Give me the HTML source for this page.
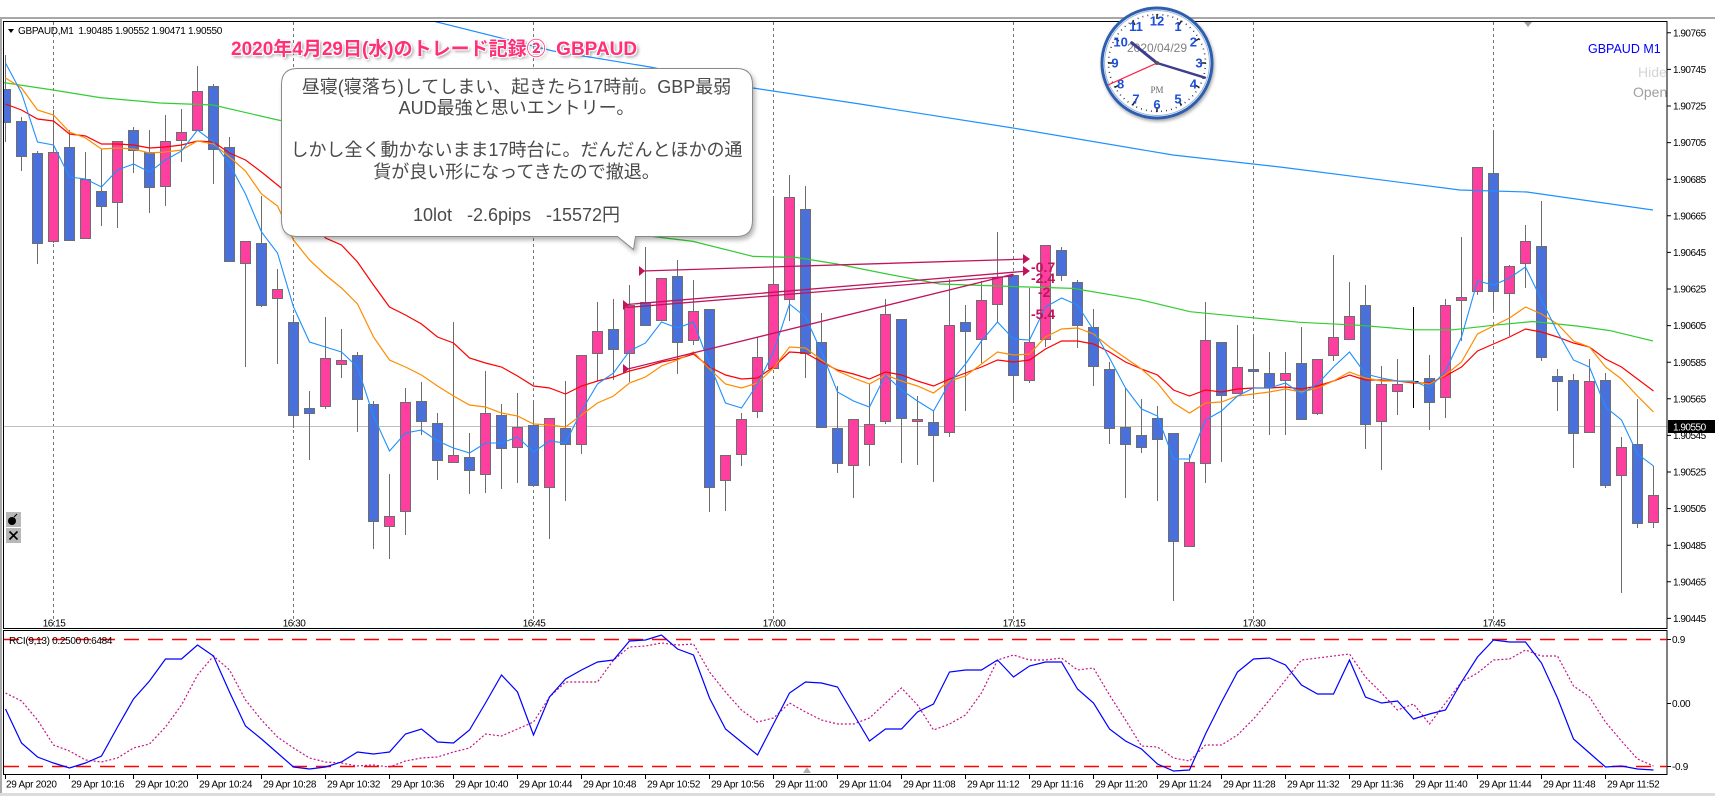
<!DOCTYPE html>
<html><head><meta charset="utf-8">
<style>
html,body{margin:0;padding:0;background:#fff;}
body{width:1715px;height:796px;position:relative;overflow:hidden;}
.ct{position:absolute;left:281px;width:471px;text-align:center;font-family:"Liberation Sans","Noto Sans CJK JP",sans-serif;font-size:18px;line-height:21px;color:#4a4a4a;white-space:pre;}
.title{position:absolute;left:231px;top:38px;font-family:"Liberation Sans","Noto Sans CJK JP",sans-serif;font-weight:bold;font-size:19px;line-height:24px;color:#ff2f78;white-space:pre;
text-shadow:-1px -1px 0 #fff,1px -1px 0 #fff,-1px 1px 0 #fff,1px 1px 0 #fff,0 0 2px #fff,2px 2px 3px rgba(0,0,0,.45);}
</style></head>
<body>
<svg width="1715" height="796" xmlns="http://www.w3.org/2000/svg" style="position:absolute;left:0;top:0" font-family="'Liberation Sans', sans-serif">
<defs>
<clipPath id="cm"><rect x="4" y="22" width="1663" height="606"/></clipPath>
<clipPath id="cr"><rect x="4" y="631" width="1663" height="143"/></clipPath>
<filter id="sh" x="-10%" y="-10%" width="120%" height="130%"><feDropShadow dx="2" dy="3" stdDeviation="2.5" flood-color="#000" flood-opacity="0.3"/></filter>
<filter id="sh2" x="-20%" y="-20%" width="140%" height="140%"><feDropShadow dx="1" dy="2" stdDeviation="1.5" flood-color="#000" flood-opacity="0.35"/></filter>
</defs>
<rect x="0" y="0" width="1715" height="796" fill="#fff"/>
<rect x="0" y="17" width="1715" height="2" fill="#a8a8a8"/>
<rect x="0" y="17" width="2" height="779" fill="#a8a8a8"/>
<rect x="0" y="793" width="1715" height="3" fill="#dcdcdc"/>

<g clip-path="url(#cm)">
<g stroke="#777" stroke-width="1" stroke-dasharray="3,3">
<path d="M53.5 22V628M293.5 22V628M533.5 22V628M773.5 22V628M1013.5 22V628M1253.5 22V628M1493.5 22V628"/>
</g>
<path d="M4 426.5H1667" stroke="#c0c0c0" stroke-width="1"/>

<path fill="none" stroke="#6e6e6e" stroke-width="1" d="M5.5 55V142M21.5 117V171M37.5 151V264M53.5 110V243M69.5 130V241M85.5 152V238M101.5 149V226M117.5 141V228M133.5 127V173M149.5 130V213M165.5 115V206M181.5 109V162M197.5 66V130M213.5 84V184M229.5 137V261M245.5 241V367M261.5 196V307M277.5 269V364M293.5 315V428M309.5 391V460M325.5 317V409M341.5 329V378M357.5 352V432M373.5 401V549M389.5 474V559M405.5 388V535M421.5 382V435M437.5 413V480M453.5 322V462M469.5 433V494M485.5 371V493M501.5 404V489M517.5 393V483M533.5 401V485M549.5 418V539M565.5 381V501M581.5 355V454M597.5 302V381M613.5 299V380M629.5 285V382M645.5 247V325M661.5 278V320M677.5 260V374M693.5 280V345M709.5 309V512M725.5 455V511M741.5 413V466M757.5 337V418M773.5 196V368M789.5 175V321M805.5 186V378M821.5 313V427M837.5 386V473M853.5 419V498M869.5 384V466M885.5 299V424M901.5 319V463M917.5 396V465M933.5 411V482M949.5 279V437M965.5 305V411M981.5 281V363M997.5 232V322M1013.5 275V401M1029.5 288V383M1045.5 245V347M1061.5 247V281M1077.5 280V348M1093.5 309V386M1109.5 362V444M1125.5 388V498M1141.5 399V453M1157.5 406V501M1173.5 433V601M1189.5 454V547M1205.5 302V483M1221.5 342V462M1237.5 325V393M1253.5 335V399M1269.5 352V435M1285.5 352V435M1301.5 327V419M1317.5 359V415M1333.5 255V361M1349.5 282V339M1365.5 285V449M1381.5 366V470M1397.5 359V415M1429.5 355V430M1445.5 299V418M1461.5 237V341M1477.5 167V295M1493.5 130V310M1509.5 265V336M1525.5 225V288M1541.5 201V361M1557.5 369V411M1573.5 374V468M1589.5 359V432M1605.5 373V488M1621.5 437V593M1637.5 399V528M1653.5 466V528"/>
<path d="M1413.5 307V408M1408.5 381.5H1418.5" stroke="#000" stroke-width="1"/>

<path fill="#ff3fa0" stroke="#6e6e6e" stroke-width="1" d="M48.5 152.5h10v89h-10zM80.5 179.5h10v59h-10zM112.5 141.5h10v61h-10zM160.5 141.5h10v45h-10zM176.5 132.5h10v8h-10zM192.5 91.5h10v39h-10zM240.5 241.5h10v22h-10zM272.5 289.5h10v9h-10zM320.5 358.5h10v48h-10zM336.5 360.5h10v4h-10zM384.5 516.5h10v10h-10zM400.5 402.5h10v109h-10zM448.5 455.5h10v7h-10zM480.5 413.5h10v61h-10zM512.5 427.5h10v20h-10zM544.5 418.5h10v69h-10zM576.5 355.5h10v89h-10zM592.5 331.5h10v22h-10zM624.5 305.5h10v48h-10zM656.5 278.5h10v42h-10zM688.5 311.5h10v29h-10zM720.5 455.5h10v25h-10zM736.5 419.5h10v35h-10zM752.5 357.5h10v54h-10zM768.5 284.5h10v84h-10zM784.5 197.5h10v102h-10zM848.5 419.5h10v46h-10zM864.5 424.5h10v20h-10zM880.5 314.5h10v107h-10zM912.5 419.5h10v2h-10zM944.5 325.5h10v107h-10zM976.5 300.5h10v39h-10zM992.5 277.5h10v27h-10zM1024.5 342.5h10v38h-10zM1040.5 245.5h10v94h-10zM1184.5 462.5h10v84h-10zM1200.5 340.5h10v123h-10zM1232.5 367.5h10v26h-10zM1280.5 373.5h10v7h-10zM1312.5 359.5h10v54h-10zM1328.5 337.5h10v18h-10zM1344.5 316.5h10v23h-10zM1376.5 384.5h10v37h-10zM1392.5 384.5h10v7h-10zM1440.5 305.5h10v92h-10zM1456.5 297.5h10v3h-10zM1472.5 167.5h10v124h-10zM1504.5 266.5h10v27h-10zM1520.5 241.5h10v22h-10zM1584.5 381.5h10v51h-10zM1616.5 447.5h10v28h-10zM1648.5 495.5h10v27h-10z"/>
<path fill="#4a70dc" stroke="#6e6e6e" stroke-width="1" d="M0.5 89.5h10v33h-10zM16.5 121.5h10v35h-10zM32.5 153.5h10v90h-10zM64.5 147.5h10v93h-10zM96.5 191.5h10v15h-10zM128.5 130.5h10v20h-10zM144.5 152.5h10v35h-10zM208.5 86.5h10v63h-10zM224.5 147.5h10v114h-10zM256.5 243.5h10v62h-10zM288.5 322.5h10v93h-10zM304.5 408.5h10v5h-10zM352.5 355.5h10v44h-10zM368.5 404.5h10v117h-10zM416.5 401.5h10v20h-10zM432.5 423.5h10v37h-10zM464.5 457.5h10v13h-10zM496.5 415.5h10v33h-10zM528.5 425.5h10v60h-10zM560.5 428.5h10v16h-10zM608.5 329.5h10v20h-10zM640.5 302.5h10v23h-10zM672.5 276.5h10v66h-10zM704.5 309.5h10v178h-10zM800.5 209.5h10v144h-10zM816.5 342.5h10v85h-10zM832.5 428.5h10v35h-10zM896.5 319.5h10v99h-10zM928.5 422.5h10v13h-10zM960.5 322.5h10v9h-10zM1008.5 275.5h10v100h-10zM1056.5 250.5h10v25h-10zM1072.5 282.5h10v43h-10zM1088.5 327.5h10v39h-10zM1104.5 369.5h10v59h-10zM1120.5 427.5h10v17h-10zM1136.5 435.5h10v12h-10zM1152.5 418.5h10v21h-10zM1168.5 433.5h10v108h-10zM1216.5 342.5h10v53h-10zM1248.5 369.5h10v2h-10zM1264.5 373.5h10v14h-10zM1296.5 363.5h10v56h-10zM1360.5 305.5h10v119h-10zM1424.5 378.5h10v24h-10zM1488.5 173.5h10v118h-10zM1536.5 246.5h10v111h-10zM1552.5 376.5h10v5h-10zM1568.5 380.5h10v53h-10zM1600.5 380.5h10v105h-10zM1632.5 444.5h10v79h-10z"/>

<polyline fill="none" stroke="#1e90ff" stroke-width="1.2" points="420,18 437,22 553,51 650,67 753,88 860,104 1013,128 1173,155 1280,167 1460,190 1527,192 1653,210"/>
<polyline fill="none" stroke="#32cd32" stroke-width="1.2" points="0,82 53,90 100,97.6 160,103 213,105 278,120 330,130 450,170 560,210 653,236.5 693,241.4 753,256.4 797,257.5 837,264 887,274 940,284 1013,286.5 1073,288.4 1140,299.7 1190,311.7 1253,317.8 1300,322.3 1360,325.3 1413,329.8 1453,329.8 1493,325.3 1533,321.5 1577,326 1610,330.6 1653,341"/>

<g transform="translate(5.5 0) scale(16 1)" fill="none">
<polyline vector-effect="non-scaling-stroke" stroke="#ff0000" stroke-width="1.2" points="0,104 1,110 2,119 3,121 4,134 5,136 6,144 7,144 8,145 9,148 10,147 11,145 12,141 13,142 14,153 15,160 16,172 17,185 18,198 19,214 20,238 21,245 22,262 23,285 24,307 25,315 26,324 27,337 28,343 29,358 30,363 31,367 32,376 33,386 34,388 35,394 36,386 37,381 38,377 39,371 40,367 41,362 42,359 43,354 44,367 45,375 46,379 47,378 48,367 49,352 50,353 51,362 52,370 53,374 54,379 55,372 56,375 57,381 58,386 59,379 60,373 61,367 62,360 63,362 64,360 65,349 66,341 67,341 68,344 69,352 70,362 71,369 72,375 73,390 74,396 75,390 76,392 77,389 78,388 79,388 80,387 81,389 82,386 83,381 84,375 85,380 86,380 87,381 88,383 89,383 90,376 91,367 92,351 93,344 94,337 95,329 96,332 97,337 98,343 99,347 100,359 101,367 102,379 103,391"/>
<polyline vector-effect="non-scaling-stroke" stroke="#ff8c00" stroke-width="1.2" points="0,78 1,88 2,110 3,115 4,132 5,138 6,149 7,148 8,149 9,153 10,152 11,150 12,141 13,144 14,157 15,171 16,194 17,206 18,240 19,260 20,275 21,288 22,304 23,337 24,360 25,367 26,375 27,386 28,396 29,405 30,407 31,413 32,416 33,424 34,425 35,427 36,415 37,403 38,396 39,383 40,377 41,366 42,360 43,352 44,369 45,384 46,388 47,383 48,368 49,347 50,348 51,360 52,371 53,378 54,384 55,375 56,381 57,386 58,393 59,381 60,376 61,364 62,352 63,355 64,354 65,337 66,329 67,328 68,334 69,347 70,358 71,369 72,383 73,403 74,413 75,403 76,402 77,396 78,394 79,392 80,389 81,392 82,388 83,381 84,372 85,378 86,381 87,381 88,382 89,384 90,375 91,362 92,334 93,326 94,318 95,307 96,314 97,324 98,341 99,347 100,367 101,379 102,396 103,412"/>
<polyline vector-effect="non-scaling-stroke" stroke="#1e90ff" stroke-width="1.1" points="0,63 1,93 2,142 3,145 4,177 5,179 6,187 7,170 8,164 9,172 10,160 11,151 12,130 13,142 14,164 15,194 16,232 17,253 18,307 19,342 20,347 21,352 22,367 23,416 24,451 25,433 26,430 27,441 28,448 29,453 30,443 31,443 32,437 33,452 34,441 35,443 36,411 37,384 38,373 39,351 40,343 41,322 42,328 43,322 44,364 45,403 46,408 47,384 48,352 49,304 50,317 51,352 52,392 53,401 54,407 55,375 56,390 57,401 58,411 59,383 60,364 61,341 62,322 63,339 64,340 65,307 66,298 67,305 68,330 69,358 70,388 71,409 72,416 73,459 74,459 75,420 76,411 77,396 78,388 79,388 80,383 81,394 82,384 83,367 84,352 85,374 86,378 87,381 88,381 89,388 90,371 91,337 92,281 93,285 94,278 95,267 96,300 97,332 98,360 99,367 100,407 101,420 102,454 103,466"/>
</g>

<g stroke="#c0145c" stroke-width="1.3" fill="none">
<path d="M642.7 271L1028 259M626.7 304.5L1028 271M626.7 307.5L1013 276M626.7 369.3L1013 274.3"/>
</g>
<g fill="#c0145c">
<polygon points="639,266 645,271 639,276"/>
<polygon points="623,300 629,305 623,310"/>
<polygon points="623,364 629,369 623,374"/>
<polygon points="1023,254 1030,259 1023,264"/>
<polygon points="1023,266 1030,271 1023,276"/>
</g>
<g font-weight="bold" font-size="14" fill="#c0145c">
<text x="1031" y="272">-0.7</text>
<text x="1031" y="283">-2.4</text>
<text x="1038" y="297">-2</text>
<text x="1031" y="319">-5.4</text>
</g>

<g font-size="10" fill="#000" text-anchor="middle" letter-spacing="-0.5">
<text x="54" y="626.4">16:15</text><text x="294" y="626.4">16:30</text><text x="534" y="626.4">16:45</text><text x="774" y="626.4">17:00</text><text x="1014" y="626.4">17:15</text><text x="1254" y="626.4">17:30</text><text x="1494" y="626.4">17:45</text>
</g>

<text x="1588" y="53" font-size="12.5" fill="#0000ff">GBPAUD M1</text>
<text x="1638" y="77" font-size="14" fill="#d4d4d4">Hide</text>
<text x="1633" y="97" font-size="14" fill="#a0a0a0">Open</text>

<rect x="6" y="512" width="15" height="15" fill="#b8b8b8"/>
<circle cx="12" cy="521" r="4" fill="#000"/><path d="M14 517l3-3" stroke="#000" stroke-width="1"/>
<rect x="6" y="528" width="15" height="15" fill="#b8b8b8"/>
<path d="M9.5 531.5l8 8M17.5 531.5l-8 8" stroke="#000" stroke-width="1.6"/>
</g>

<polygon points="8,29 14,29 11,33" fill="#000"/>
<text x="18" y="34" font-size="10" letter-spacing="-0.3" fill="#000" xml:space="preserve">GBPAUD,M1  1.90485 1.90552 1.90471 1.90550</text>
<polygon points="1524,22 1532,22 1528,27" fill="#a0a0a0"/>

<path d="M297.5 68.5H736.5Q752.5 68.5 752.5 84.5V220.5Q752.5 236.5 736.5 236.5H635.5L633.5 249.5L617.5 236.5H297.5Q281.5 236.5 281.5 220.5V84.5Q281.5 68.5 297.5 68.5Z" fill="#fff" stroke="#8a8a8a" stroke-width="1" filter="url(#sh)"/>

<rect x="3.5" y="21.5" width="1663.5" height="607" fill="none" stroke="#000" stroke-width="1"/>
<rect x="3.5" y="630.5" width="1663.5" height="144" fill="none" stroke="#000" stroke-width="1"/>

<g stroke="#000" stroke-width="1">
<path d="M1667 32.8h4M1667 69.4h4M1667 106h4M1667 142.6h4M1667 179.2h4M1667 215.8h4M1667 252.4h4M1667 289h4M1667 325.6h4M1667 362.2h4M1667 398.8h4M1667 435.4h4M1667 472h4M1667 508.6h4M1667 545.2h4M1667 581.8h4M1667 618.4h4"/>
</g>
<g font-size="10" fill="#000" letter-spacing="-0.5">
<text x="1673" y="36.4">1.90765</text><text x="1673" y="73">1.90745</text><text x="1673" y="109.6">1.90725</text><text x="1673" y="146.2">1.90705</text><text x="1673" y="182.8">1.90685</text><text x="1673" y="219.4">1.90665</text><text x="1673" y="256">1.90645</text><text x="1673" y="292.6">1.90625</text><text x="1673" y="329.2">1.90605</text><text x="1673" y="365.8">1.90585</text><text x="1673" y="402.4">1.90565</text><text x="1673" y="439">1.90545</text><text x="1673" y="475.6">1.90525</text><text x="1673" y="512.2">1.90505</text><text x="1673" y="548.8">1.90485</text><text x="1673" y="585.4">1.90465</text><text x="1673" y="622">1.90445</text>
</g>
<rect x="1668" y="420" width="47" height="13" fill="#000"/>
<text x="1673" y="430.5" font-size="10" letter-spacing="-0.5" fill="#fff">1.90550</text>

<g clip-path="url(#cr)">
<path d="M4 639.5H1667M4 766.5H1667" stroke="#ff0000" stroke-width="1.6" stroke-dasharray="15,9"/>
<polyline fill="none" stroke="#c71585" stroke-width="1.2" stroke-dasharray="2,2" points="5.5,693 21.5,701 37.5,720 53.5,745 69.5,751 85.5,760 101.5,762 117.5,758 133.5,748 149.5,744 165.5,727 181.5,705 197.5,675 213.5,656 229.5,670 245.5,700 261.5,720 277.5,737 293.5,748 309.5,758 325.5,762 341.5,763 357.5,766 373.5,765 389.5,767 405.5,761 421.5,758 437.5,757 453.5,752 469.5,748 485.5,734 501.5,736 517.5,729 533.5,722 549.5,697 565.5,682 581.5,682 597.5,682 613.5,660 629.5,647 645.5,646 661.5,643 677.5,645 693.5,644 709.5,672 725.5,692 741.5,710 757.5,722 773.5,718 789.5,703 805.5,712 821.5,720 837.5,724 853.5,724 869.5,718 885.5,703 901.5,688 917.5,705 933.5,730 949.5,724 965.5,715 981.5,693 997.5,660 1013.5,655 1029.5,660 1045.5,660 1061.5,658 1077.5,670 1093.5,668 1109.5,695 1125.5,720 1141.5,746 1157.5,747 1173.5,758 1189.5,761 1205.5,745 1221.5,745 1237.5,735 1253.5,719 1269.5,700 1285.5,680 1301.5,660 1317.5,658 1333.5,656 1349.5,654 1365.5,677 1381.5,693 1397.5,710 1413.5,704 1429.5,724 1445.5,703 1461.5,682 1477.5,673 1493.5,660 1509.5,659 1525.5,650 1541.5,656 1557.5,656 1573.5,686 1589.5,697 1605.5,722 1621.5,741 1637.5,759 1653.5,766"/>
<g transform="translate(5.5 0) scale(16 1)" fill="none">
<polyline vector-effect="non-scaling-stroke" stroke="#0000ff" stroke-width="1.2" points="0,709 1,743 2,757 3,763 4,768 5,763 6,756 7,727 8,699 9,681 10,659 11,659 12,645 13,656 14,692 15,726 16,739 17,753 18,767 19,769 20,767 21,762 22,752 23,754 24,752 25,734 26,729 27,742 28,743 29,730 30,703 31,675 32,692 33,735 34,697 35,679 36,670 37,662 38,660 39,641 40,640 41,635 42,649 43,655 44,698 45,729 46,742 47,755 48,724 49,693 50,682 51,683 52,687 53,714 54,741 55,729 56,729 57,712 58,704 59,672 60,670 61,670 62,660 63,677 64,666 65,662 66,662 67,689 68,703 69,729 70,741 71,749 72,764 73,771 74,770 75,734 76,702 77,672 78,659 79,658 80,665 81,685 82,694 83,694 84,660 85,697 86,703 87,701 88,719 89,714 90,710 91,682 92,657 93,640 94,642 95,642 96,663 97,698 98,739 99,753 100,767 101,766 102,769 103,770"/>
</g>
<text x="9" y="644" font-size="10" letter-spacing="-0.3" fill="#000">RCI(9,13) 0.2500 0.6484</text>
<polygon points="807,767 811,773 803,773" fill="#b0b0b0"/>
</g>
<g font-size="10" fill="#000" letter-spacing="-0.3">
<text x="1672" y="643">0.9</text><text x="1672" y="707">0.00</text><text x="1672" y="770">-0.9</text>
</g>
<path d="M1667 639.5h4M1667 703.5h4M1667 766.5h4" stroke="#000"/>

<path stroke="#000" stroke-width="1" d="M5.5 775v4M69.5 775v4M133.5 775v4M197.5 775v4M261.5 775v4M325.5 775v4M389.5 775v4M453.5 775v4M517.5 775v4M581.5 775v4M645.5 775v4M709.5 775v4M773.5 775v4M837.5 775v4M901.5 775v4M965.5 775v4M1029.5 775v4M1093.5 775v4M1157.5 775v4M1221.5 775v4M1285.5 775v4M1349.5 775v4M1413.5 775v4M1477.5 775v4M1541.5 775v4M1605.5 775v4"/>
<g font-size="10" fill="#000" letter-spacing="-0.3">
<text x="6" y="787.5">29 Apr 2020</text>
<text x="71" y="787.5">29 Apr 10:16</text><text x="135" y="787.5">29 Apr 10:20</text><text x="199" y="787.5">29 Apr 10:24</text><text x="263" y="787.5">29 Apr 10:28</text><text x="327" y="787.5">29 Apr 10:32</text><text x="391" y="787.5">29 Apr 10:36</text><text x="455" y="787.5">29 Apr 10:40</text><text x="519" y="787.5">29 Apr 10:44</text><text x="583" y="787.5">29 Apr 10:48</text><text x="647" y="787.5">29 Apr 10:52</text><text x="711" y="787.5">29 Apr 10:56</text><text x="775" y="787.5">29 Apr 11:00</text><text x="839" y="787.5">29 Apr 11:04</text><text x="903" y="787.5">29 Apr 11:08</text><text x="967" y="787.5">29 Apr 11:12</text><text x="1031" y="787.5">29 Apr 11:16</text><text x="1095" y="787.5">29 Apr 11:20</text><text x="1159" y="787.5">29 Apr 11:24</text><text x="1223" y="787.5">29 Apr 11:28</text><text x="1287" y="787.5">29 Apr 11:32</text><text x="1351" y="787.5">29 Apr 11:36</text><text x="1415" y="787.5">29 Apr 11:40</text><text x="1479" y="787.5">29 Apr 11:44</text><text x="1543" y="787.5">29 Apr 11:48</text><text x="1607" y="787.5">29 Apr 11:52</text>
</g>

<g>
<circle cx="1157" cy="63" r="55" fill="#fff" stroke="#2f5fae" stroke-width="3" filter="url(#sh2)"/>
<circle cx="1157" cy="63" r="52.5" fill="none" stroke="#9bb6e0" stroke-width="1"/>
<circle cx="1157" cy="63" r="48.5" fill="none" stroke="#333" stroke-width="1.6" stroke-dasharray="0.9,4.18"/>
<g stroke="#222" stroke-width="1.5">
<path d="M1157 14v5M1157 107v5M1108 63h5M1201 63h5M1181.5 20.6l-2.5 4.3M1199.4 38.5l-4.3 2.5M1199.4 87.5l-4.3-2.5M1181.5 105.4l-2.5-4.3M1132.5 105.4l2.5-4.3M1114.6 87.5l4.3-2.5M1114.6 38.5l4.3 2.5M1132.5 20.6l2.5 4.3"/>
</g>
<text x="1157" y="52" font-size="12" fill="#808080" text-anchor="middle">2020/04/29</text>
<g font-size="13" font-weight="bold" fill="#1d4fd8" text-anchor="middle">
<text x="1157" y="25.5">12</text><text x="1178" y="31">1</text><text x="1193.4" y="46.5">2</text><text x="1199" y="67.5">3</text><text x="1193.4" y="88.5">4</text><text x="1178" y="103.5">5</text><text x="1157" y="109">6</text><text x="1136" y="103.5">7</text><text x="1120.6" y="88.5">8</text><text x="1115" y="67.5">9</text><text x="1120.6" y="46.5">10</text><text x="1136" y="31">11</text>
</g>
<text x="1157" y="93" font-size="9" font-family="'Liberation Serif', serif" fill="#666" text-anchor="middle">PM</text>
<path d="M1157 63L1131.7 42.7" stroke="#3d3f8e" stroke-width="3" stroke-linecap="round"/>
<path d="M1157 63L1205 77.7" stroke="#3d3f8e" stroke-width="2.4" stroke-linecap="round"/>
<path d="M1157 63L1108 85" stroke="#ff2040" stroke-width="1.2"/>
<circle cx="1157" cy="63" r="2" fill="#555"/>
</g>
</svg>

<div class="title">2020年4月29日(水)のトレード記録②  GBPAUD</div>

<div class="ct" style="top:77px">昼寝(寝落ち)してしまい、起きたら17時前。GBP最弱</div>
<div class="ct" style="top:98px">AUD最強と思いエントリー。</div>
<div class="ct" style="top:140px">しかし全く動かないまま17時台に。だんだんとほかの通</div>
<div class="ct" style="top:162px">貨が良い形になってきたので撤退。</div>
<div class="ct" style="top:205px">10lot   -2.6pips   -15572円</div>
</body></html>
